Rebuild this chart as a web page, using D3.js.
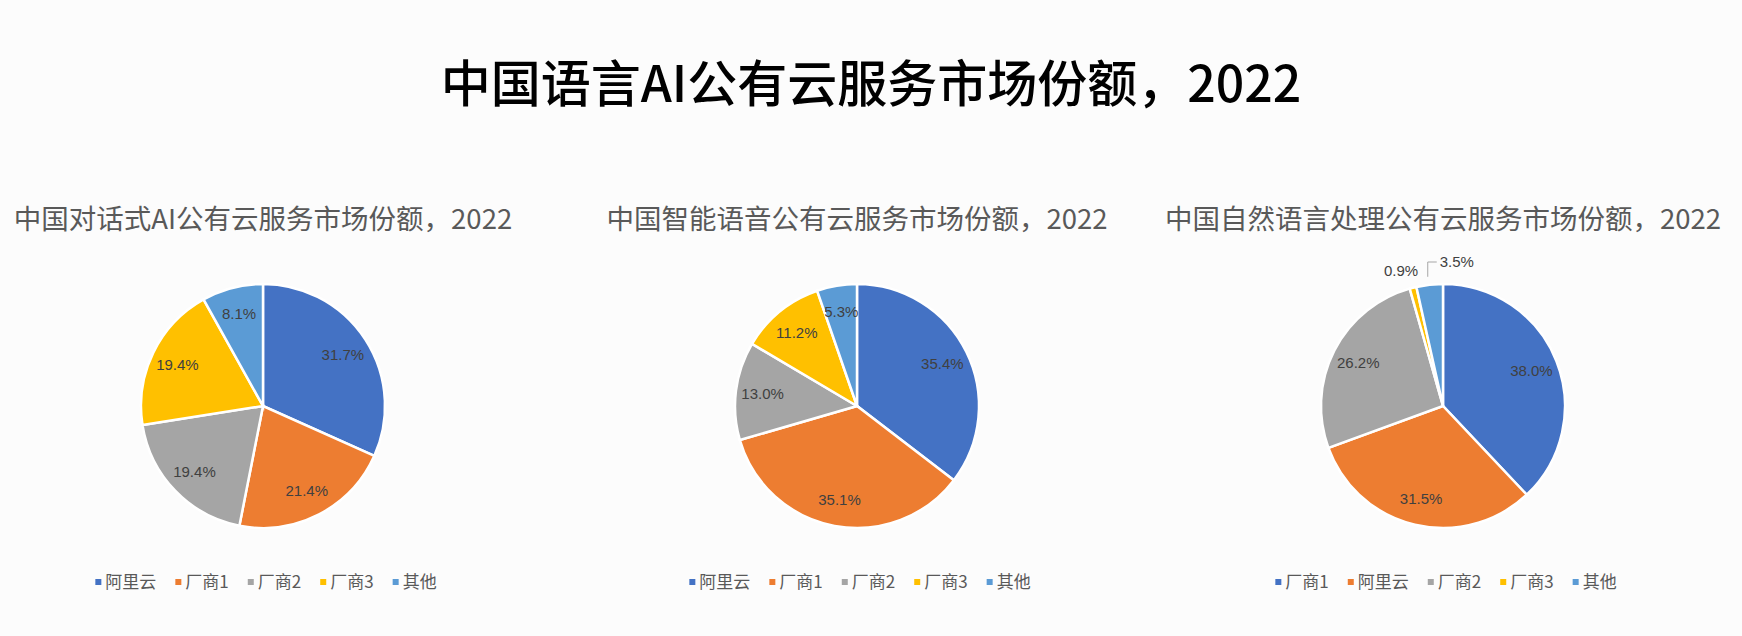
<!DOCTYPE html>
<html>
<head>
<meta charset="utf-8">
<script src="https://cdn.jsdelivr.net/npm/d3@7"></script>
<style>
  body { margin: 0; background: #fcfcfc; }
  text { font-family: "Noto Sans CJK SC", "Noto Sans", sans-serif; }
</style>
</head>
<body>
<div id="chart"></div>
<script>
// data
var mainTitle = "中国语言AI公有云服务市场份额，2022";
var titles = [
    "中国对话式AI公有云服务市场份额，2022",
    "中国智能语音公有云服务市场份额，2022",
    "中国自然语言处理公有云服务市场份额，2022"
];
var names1 = ["阿里云", "厂商1", "厂商2", "厂商3", "其他"];
var values1 = [31.7, 21.4, 19.4, 19.4, 8.1];
var names2 = ["阿里云", "厂商1", "厂商2", "厂商3", "其他"];
var values2 = [35.4, 35.1, 13.0, 11.2, 5.3];
var names3 = ["厂商1", "阿里云", "厂商2", "厂商3", "其他"];
var values3 = [38.0, 31.5, 26.2, 0.9, 3.5];

var colors = ["#4472C4", "#ED7D31", "#A5A5A5", "#FFC000", "#5B9BD5"];

var width = 1742, height = 636;
var radius = 122;
var cy = 406;

var svg = d3.select("#chart")
    .append("svg")
    .attr("width", width)
    .attr("height", height);

svg.append("rect").attr("width", width).attr("height", height).attr("fill", "#fcfcfc");

// main title
svg.append("text")
    .attr("x", width / 2)
    .attr("y", 102)
    .attr("text-anchor", "middle")
    .style("font-size", "50px")
    .style("font-weight", "500")
    .style("fill", "#000")
    .text(mainTitle);

var charts = [
    {cx: 263, title: titles[0], names: names1, values: values1},
    {cx: 857, title: titles[1], names: names2, values: values2},
    {cx: 1443, title: titles[2], names: names3, values: values3}
];

var pie = d3.pie().sort(null).value(function(d){ return d; });
var arc = d3.arc().innerRadius(0).outerRadius(radius);
var labelArc = d3.arc().innerRadius(radius * 0.78).outerRadius(radius * 0.78);

function addLabel(g, x, y, anchor, txt) {
    g.append("text")
        .attr("x", x)
        .attr("y", y)
        .attr("dy", "0.35em")
        .attr("text-anchor", anchor)
        .style("font-size", "15px")
        .style("font-family", "'Liberation Sans', Arial, sans-serif")
        .style("fill", "#404040")
        .text(txt);
}

charts.forEach(function(c, ci) {
    // subtitle
    svg.append("text")
        .attr("x", c.cx)
        .attr("y", 229)
        .attr("text-anchor", "middle")
        .style("font-size", "27.5px")
        .style("fill", "#595959")
        .text(c.title);

    var g = svg.append("g")
        .attr("transform", "translate(" + c.cx + "," + cy + ")");

    var arcs = pie(c.values);

    g.selectAll("path")
        .data(arcs)
        .enter()
        .append("path")
        .attr("d", arc)
        .attr("fill", function(d, i){ return colors[i]; })
        .attr("stroke", "#fff")
        .attr("stroke-width", 2.5);

    arcs.forEach(function(d, i) {
        var label = d3.format(".1f")(d.data) + "%";
        if (d.data < 2 || (ci == 2 && i == 4)) {
            // small slices: labels outside
            var mid = (d.startAngle + d.endAngle) / 2;
            var px = Math.sin(mid) * (radius + 8), py = -Math.cos(mid) * (radius + 8);
            if (i == 4) {
                // leader line
                g.append("path")
                    .attr("d", "M" + (px - 1) + "," + py + "V" + (-radius - 22) + "H" + (px + 8))
                    .attr("fill", "none")
                    .attr("stroke", "#a6a6a6")
                    .attr("stroke-width", 1);
                addLabel(g, px + 11, -radius - 22, "start", label);
            } else {
                addLabel(g, px + 7, -radius - 13, "end", label);
            }
        } else {
            var p = labelArc.centroid(d);
            addLabel(g, p[0], p[1], "middle", label);
        }
    });

    // legend
    var lg = svg.append("g");
    var xpos = 0;
    c.names.forEach(function(n, i) {
        lg.append("rect")
            .attr("x", xpos)
            .attr("y", -3)
            .attr("width", 6)
            .attr("height", 6)
            .attr("fill", colors[i]);
        var t = lg.append("text")
            .attr("x", xpos + 10)
            .attr("y", 0)
            .attr("dy", "0.35em")
            .style("font-size", "17px")
            .style("fill", "#595959")
            .text(n);
        xpos += 10 + t.node().getComputedTextLength() + 19;
    });
    var lw = xpos - 19;
    lg.attr("transform", "translate(" + (c.cx - lw / 2 + 3) + ",582)");
});
</script>
</body>
</html>
